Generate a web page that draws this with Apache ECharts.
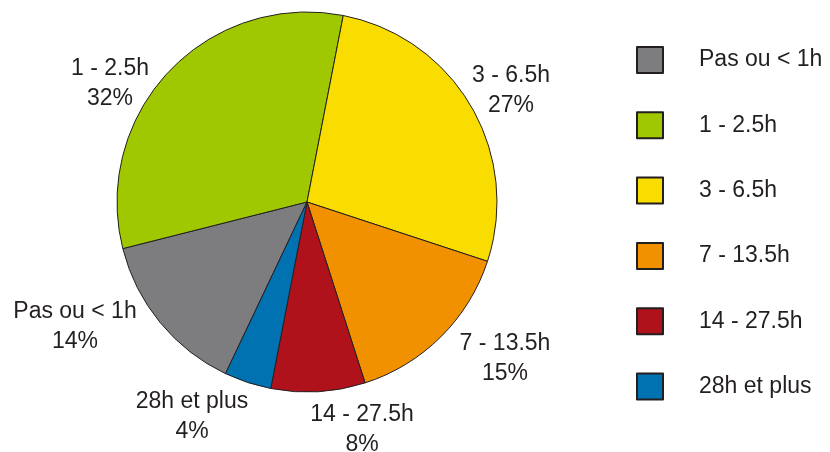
<!DOCTYPE html>
<html>
<head>
<meta charset="utf-8">
<script src="https://cdn.jsdelivr.net/npm/echarts@6/dist/echarts.min.js"></script>
<style>html,body{margin:0;padding:0;background:#fff;}#c{width:830px;height:452px;}</style>
</head>
<body>
<div id="c"></div>
<script>
const categories = ['Pas ou < 1h', '1 - 2.5h', '3 - 6.5h', '7 - 13.5h', '14 - 27.5h', '28h et plus'];
const percentages = [14, 32, 27, 15, 8, 4];
const colors = ['#7d7d7f', '#a0c800', '#f9dd00', '#f29100', '#b0121b', '#0072b1'];
// label anchor centres (layout only)
const labelPos = [[75, 327], [110, 84], [511, 91], [505, 359], [362, 430], [192, 417]];

const chart = echarts.init(document.getElementById('c'), null, {renderer: 'canvas'});
const textColor = '#231f20';
chart.setOption({
  animation: false,
  legend: {
    orient: 'vertical',
    left: 636,
    top: 46,
    padding: 0,
    itemWidth: 26,
    itemHeight: 26,
    itemGap: 37.3,
    icon: 'rect',
    data: categories,
    textStyle: {fontFamily: 'Liberation Sans', fontSize: 23, color: textColor, padding: [0, 0, 0, 31]}
  },
  series: [{
    type: 'pie',
    center: [307, 202],
    radius: 190,
    startAngle: -115.4,
    clockwise: true,
    data: categories.map((n, i) => ({name: n, value: percentages[i], itemStyle: {color: colors[i]}})),
    itemStyle: {borderColor: '#231f20', borderWidth: 1},
    label: {
      show: true,
      position: 'inner',
      rotate: 0,
      formatter: p => p.name + '\n' + p.value + '%',
      fontFamily: 'Liberation Sans',
      fontSize: 23,
      lineHeight: 30,
      color: textColor,
      align: 'center',
      overflow: 'none'
    },
    labelLine: {show: false},
    labelLayout: function (params) {
      const p = labelPos[params.dataIndex];
      return {x: p[0], y: p[1], align: 'center', verticalAlign: 'middle', hideOverlap: false};
    },
    emphasis: {disabled: true}
  }]
});
</script>
</body>
</html>
